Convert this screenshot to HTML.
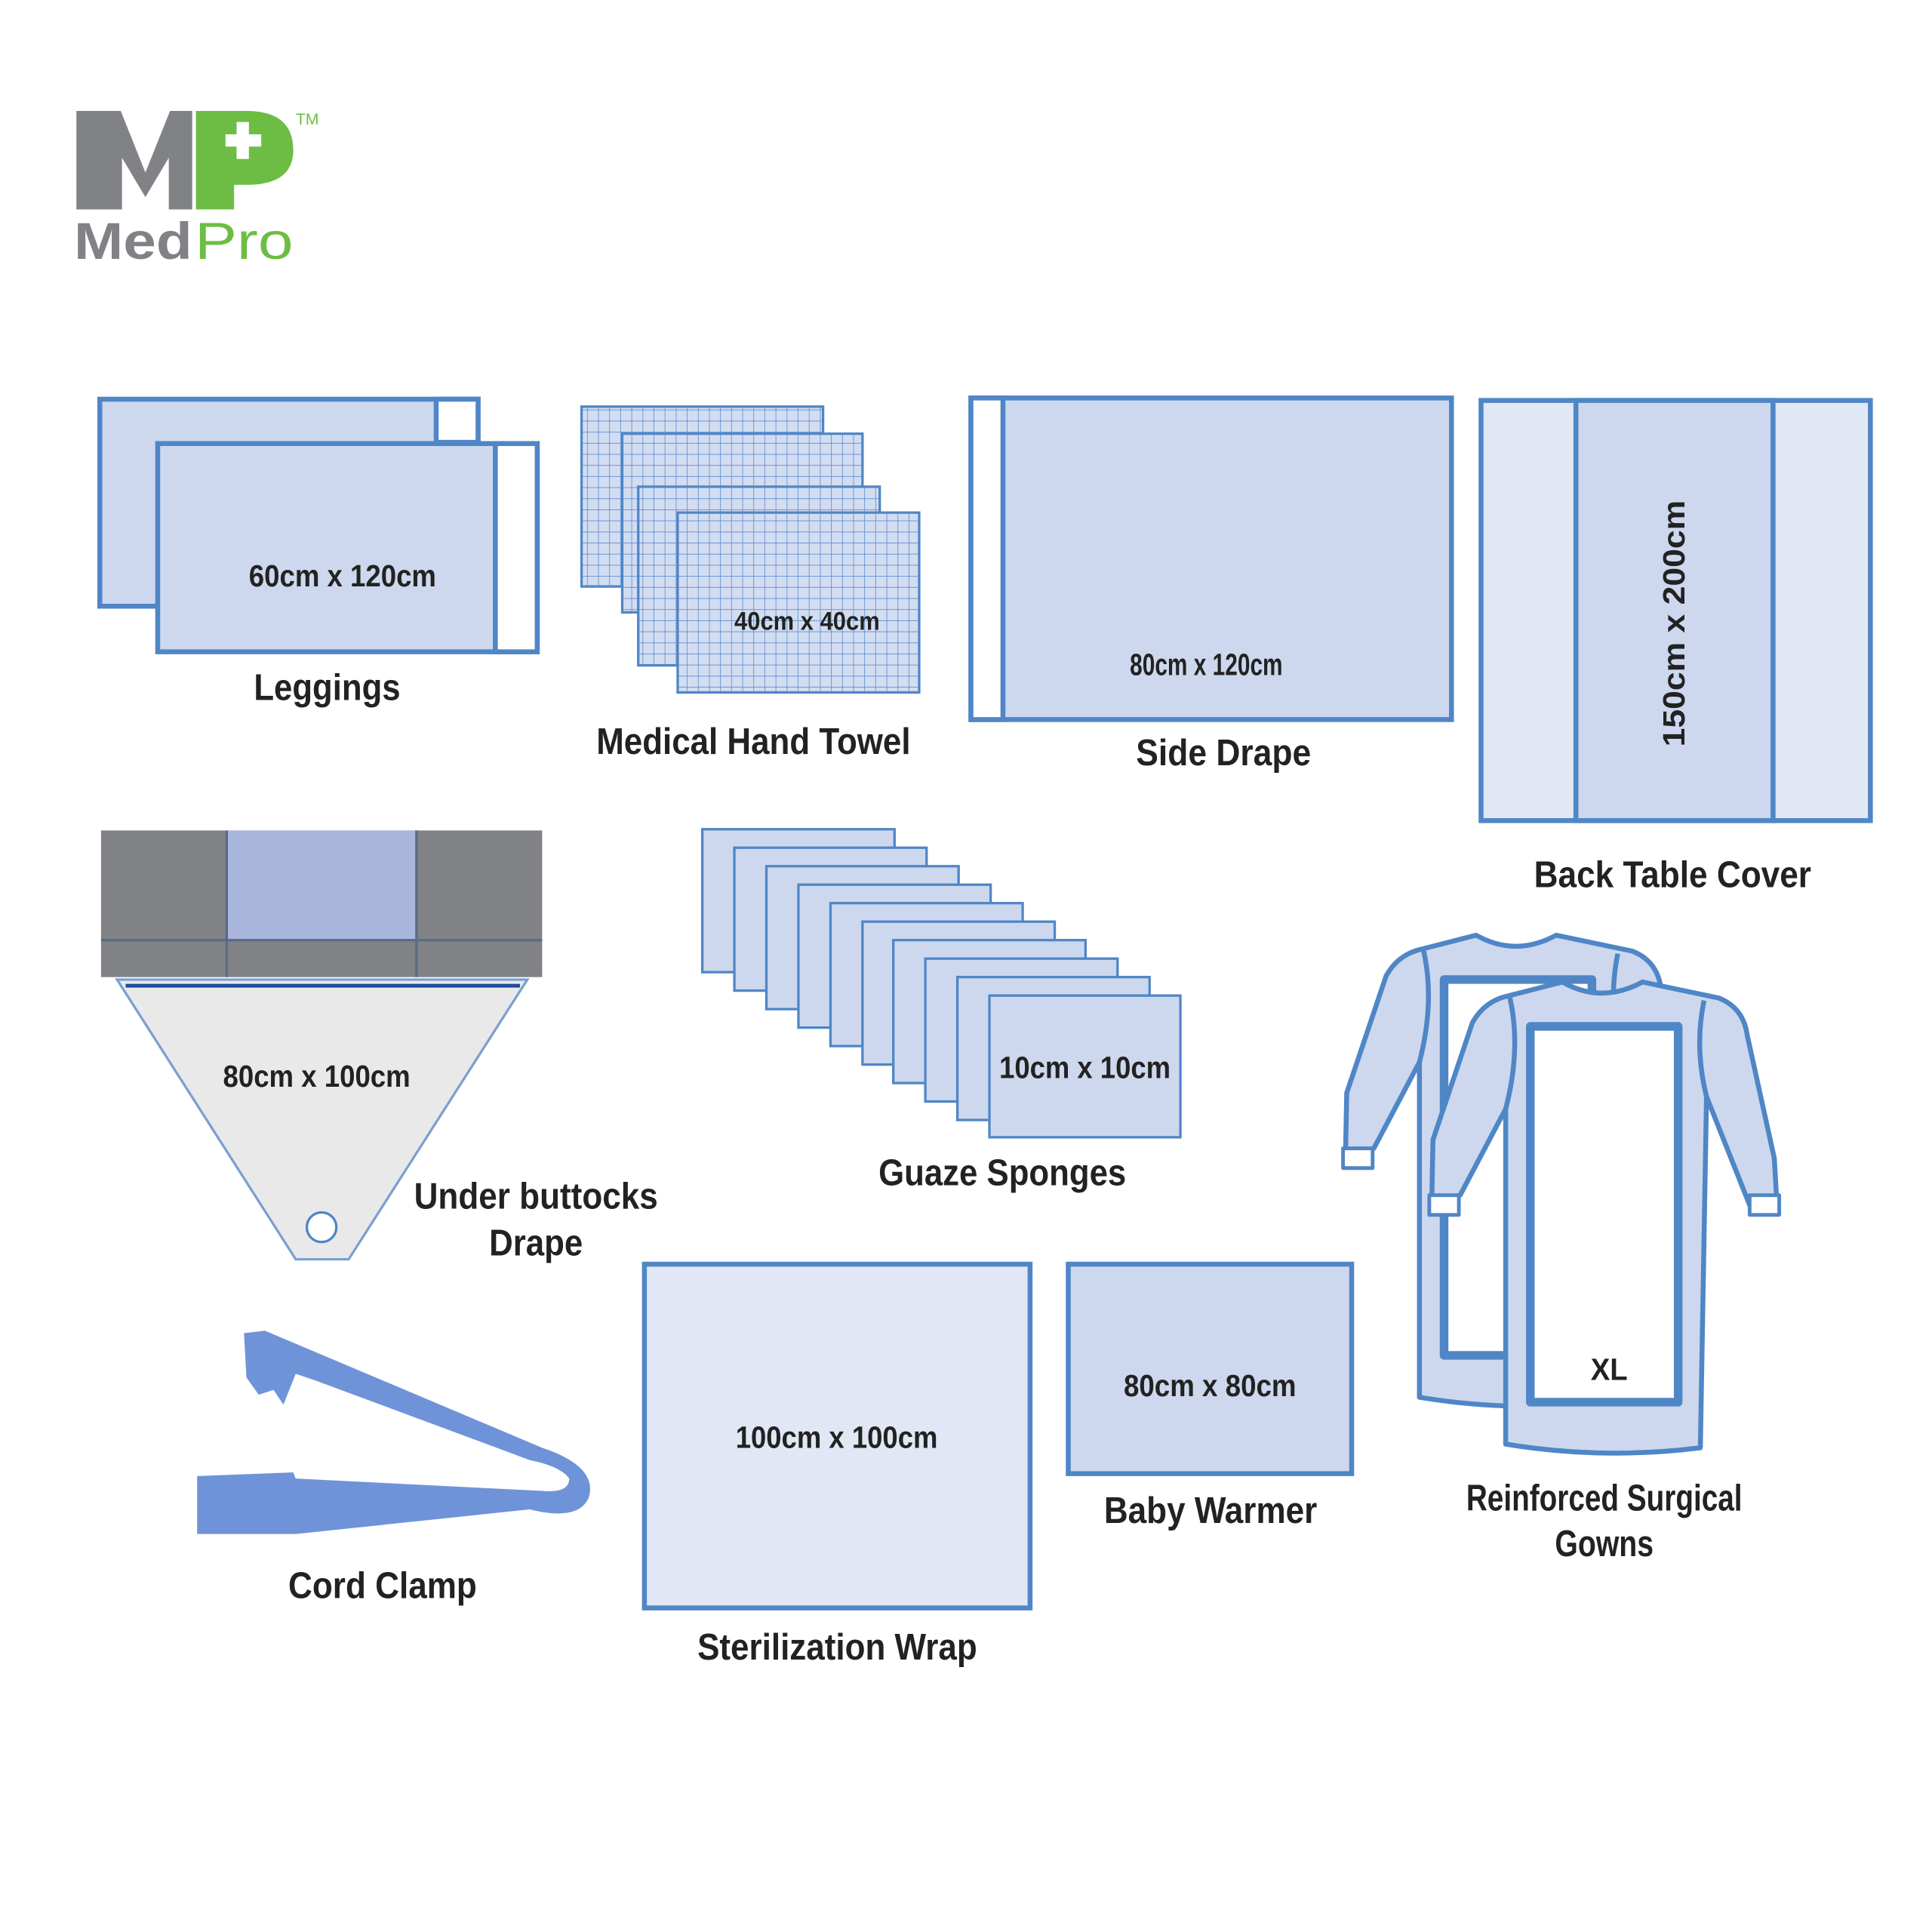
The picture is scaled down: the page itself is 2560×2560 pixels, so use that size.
<!DOCTYPE html>
<html><head><meta charset="utf-8"><style>html,body{margin:0;padding:0;background:#fff}svg{display:block}
text{font-family:"Liberation Sans",sans-serif;font-weight:bold;fill:#222}</style></head><body>
<svg width="2560" height="2560" viewBox="0 0 1568 1568" xmlns="http://www.w3.org/2000/svg">
<defs>
<pattern id="grid" width="9" height="9" patternUnits="userSpaceOnUse">
<rect width="9" height="9" fill="#d3ddf1"/><path d="M9 0V9M0 9H9" stroke="#5a8bd0" stroke-width="1"/></pattern>
</defs>
<rect width="1568" height="1568" fill="#fff"/>
<!-- logo -->
<path d="M62,90 H98 L118,140 L138,90 H156 V170 H137 V128 L118,160 L99,128 V170 H62 Z" fill="#808285"/>
<path d="M159,90 H200 Q238,90 238,122 Q238,150 200,150 H190 V170 H159 Z" fill="#6dbd45"/>
<path d="M186,103 h9 v-10 h10 v10 h10 v10 h-10 v10 h-10 v-10 h-9 Z" fill="#fff" transform="translate(-3,6)"/>
<text x="60" y="210" font-size="42" style="fill:#808285;font-weight:bold" textLength="96" lengthAdjust="spacingAndGlyphs">Med</text>
<text x="158" y="210" font-size="42" style="fill:#6dbd45;font-weight:normal" textLength="80" lengthAdjust="spacingAndGlyphs">Pro</text>
<text x="240" y="101" font-size="13" style="fill:#6dbd45;font-weight:normal">TM</text>
<g stroke="#4f86c6" stroke-width="4">
<rect x="81" y="324" width="307" height="168" fill="#cdd8ee"/>
<rect x="354" y="324" width="34" height="35" fill="#fff"/>
<rect x="128" y="360" width="308" height="169" fill="#cdd8ee"/>
<rect x="402" y="360" width="34" height="169" fill="#fff"/>
<rect x="788" y="323" width="390" height="261" fill="#cdd8ee"/>
<rect x="788" y="323" width="26" height="261" fill="#fff"/>
<rect x="1202" y="325" width="316" height="341" fill="#e1e7f4"/>
<rect x="1279" y="325" width="160" height="341" fill="#cdd8ee"/>
<rect x="523" y="1026" width="313" height="279" fill="#e1e7f4"/>
<rect x="867" y="1026" width="230" height="170" fill="#cdd8ee"/>
</g>
<g stroke="#4f86c6" stroke-width="2" fill="url(#grid)">
<rect x="472" y="330" width="196" height="146"/>
<rect x="505" y="352" width="195" height="145"/>
<rect x="518" y="395" width="196" height="145"/>
<rect x="550" y="416" width="196" height="146"/>
</g>
<g stroke="#4f86c6" stroke-width="2" fill="#cdd8ee">
<rect x="570" y="673" width="156" height="116"/>
<rect x="596" y="688" width="156" height="116"/>
<rect x="622" y="703" width="156" height="116"/>
<rect x="648" y="718" width="156" height="116"/>
<rect x="674" y="733" width="156" height="116"/>
<rect x="700" y="748" width="156" height="116"/>
<rect x="725" y="763" width="156" height="116"/>
<rect x="751" y="778" width="156" height="116"/>
<rect x="777" y="793" width="156" height="116"/>
<rect x="803" y="808" width="155" height="115"/>
</g>
<path d="M95,795 H428 L283,1022 H240 Z" fill="#e9e9ea" stroke="#7aa0cf" stroke-width="2"/>
<line x1="102" y1="800" x2="422" y2="800" stroke="#1f4e9c" stroke-width="3"/>
<circle cx="261" cy="996" r="12" fill="#fff" stroke="#4f86c6" stroke-width="2"/>
<rect x="82" y="674" width="358" height="119" fill="#808285"/>
<rect x="184" y="674" width="154" height="89" fill="#a9b7dc"/>
<path d="M82,763 H440 M184,674 V793 M338,674 V793" stroke="#5b6a8a" stroke-width="2"/>
<path d="M198,1082 L215,1080 L440,1175 Q485,1190 478,1215 Q470,1235 430,1225 L240,1245 L160,1245 L160,1198 L238,1195 L240,1200 L440,1210 Q462,1212 462,1200 Q455,1190 430,1185 L255,1120 L240,1115 L230,1140 L222,1128 L210,1132 L200,1118 Z" fill="#6f93d8"/>
<g stroke="#4f86c6" stroke-width="4" fill="#cdd8ee" stroke-linejoin="round">
<g transform="translate(-70,-38)">
<path d="M1268,797 Q1300,815 1333,797 L1395,810 Q1415,818 1418,840 L1440,940 L1442,975 L1420,978 L1385,890 L1380,1175 Q1300,1185 1222,1172 L1222,900 L1185,970 L1162,975 L1163,925 L1195,830 Q1205,812 1225,808 Z"/>
<path d="M1225,808 Q1235,850 1222,900 M1383,812 Q1375,850 1385,890" fill="none"/>
<rect x="1242" y="833" width="120" height="305" fill="#fff" stroke-width="7"/>
<rect x="1160" y="970" width="24" height="16" fill="#fff" stroke-width="3"/>
</g>
<path d="M1268,797 Q1300,815 1333,797 L1395,810 Q1415,818 1418,840 L1440,940 L1442,975 L1420,978 L1385,890 L1380,1175 Q1300,1185 1222,1172 L1222,900 L1185,970 L1162,975 L1163,925 L1195,830 Q1205,812 1225,808 Z"/>
<path d="M1225,808 Q1235,850 1222,900 M1383,812 Q1375,850 1385,890" fill="none"/>
<rect x="1242" y="833" width="120" height="305" fill="#fff" stroke-width="7"/>
<rect x="1160" y="970" width="24" height="16" fill="#fff" stroke-width="3"/>
<rect x="1420" y="970" width="24" height="16" fill="#fff" stroke-width="3"/>
</g>
<g font-size="25">
<text x="202" y="476" textLength="152" lengthAdjust="spacingAndGlyphs">60cm x 120cm</text>
<text x="596" y="511" font-size="21" textLength="118" lengthAdjust="spacingAndGlyphs">40cm x 40cm</text>
<text x="917" y="548" textLength="124" lengthAdjust="spacingAndGlyphs">80cm x 120cm</text>
<text transform="translate(1367,606) rotate(-90)" textLength="200" lengthAdjust="spacingAndGlyphs">150cm x 200cm</text>
<text x="181" y="882" textLength="152" lengthAdjust="spacingAndGlyphs">80cm x 100cm</text>
<text x="811" y="875" textLength="139" lengthAdjust="spacingAndGlyphs">10cm x 10cm</text>
<text x="597" y="1175" textLength="164" lengthAdjust="spacingAndGlyphs">100cm x 100cm</text>
<text x="912" y="1133" textLength="140" lengthAdjust="spacingAndGlyphs">80cm x 80cm</text>
<text x="1291" y="1120" textLength="30" lengthAdjust="spacingAndGlyphs">XL</text>
</g>
<g font-size="30">
<text x="206" y="568" textLength="119" lengthAdjust="spacingAndGlyphs">Leggings</text>
<text x="484" y="612" textLength="255" lengthAdjust="spacingAndGlyphs">Medical Hand Towel</text>
<text x="922" y="621" textLength="142" lengthAdjust="spacingAndGlyphs">Side Drape</text>
<text x="1245" y="720" textLength="225" lengthAdjust="spacingAndGlyphs">Back Table Cover</text>
<text x="336" y="981" textLength="198" lengthAdjust="spacingAndGlyphs">Under buttocks</text>
<text x="397" y="1019" textLength="76" lengthAdjust="spacingAndGlyphs">Drape</text>
<text x="713" y="962" textLength="201" lengthAdjust="spacingAndGlyphs">Guaze Sponges</text>
<text x="234" y="1297" textLength="153" lengthAdjust="spacingAndGlyphs">Cord Clamp</text>
<text x="566" y="1347" textLength="227" lengthAdjust="spacingAndGlyphs">Sterilization Wrap</text>
<text x="896" y="1236" textLength="173" lengthAdjust="spacingAndGlyphs">Baby Warmer</text>
<text x="1190" y="1226" textLength="224" lengthAdjust="spacingAndGlyphs">Reinforced Surgical</text>
<text x="1262" y="1263" textLength="80" lengthAdjust="spacingAndGlyphs">Gowns</text>
</g>
</svg>
</body></html>
